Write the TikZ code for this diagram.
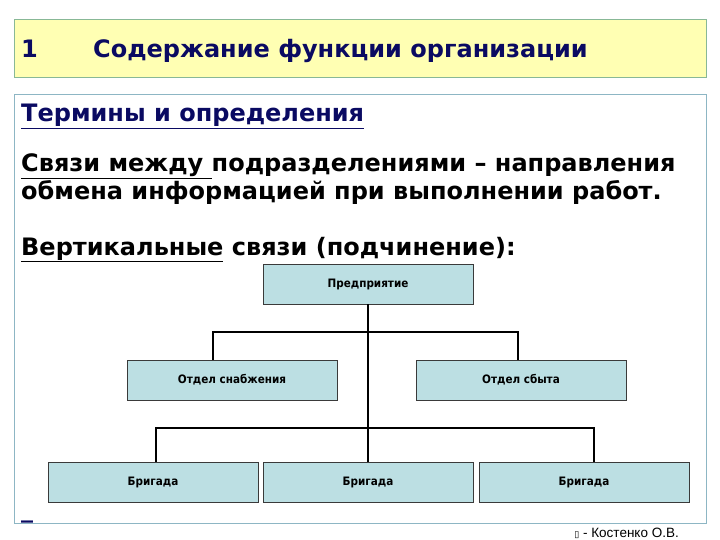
\documentclass[tikz,border=0pt]{standalone}
\usepackage{fontspec}
\setmainfont{DejaVu Sans}
\newfontfamily\footfont{Liberation Sans}
\newfontfamily\boxfont{DejaVu Sans Condensed}
\usetikzlibrary{positioning}
\definecolor{titlefill}{HTML}{FFFFB3}
\definecolor{titleline}{HTML}{88B896}
\definecolor{frameline}{HTML}{8DB6C4}
\definecolor{navy}{HTML}{0A0A62}
\definecolor{unitfill}{HTML}{BCDFE3}
\definecolor{unitline}{HTML}{3A3A3A}
\tikzstyle{unit}=[draw=unitline, fill=unitfill, line width=0.8pt, inner sep=0,
                  minimum width=210, minimum height=40,
                  font=\boxfont\fontsize{11.6}{13}\selectfont\bfseries]
\tikzstyle{link}=[line width=2pt, black]
\tikzstyle{slidetext}=[anchor=base west, inner sep=0,
                       font=\fontsize{24}{28}\selectfont\bfseries]
\begin{document}
\begin{tikzpicture}[x=1pt, y=-1pt]
    \useasboundingbox (0,0) rectangle (720,540);
    % Title bar and frame
    \draw[titleline, fill=titlefill, line width=1pt] (14,20) rectangle (706,78);
    \draw[frameline, line width=1pt] (14,95) rectangle (706,523);
    \node[slidetext, navy] (num) at (21,58) {1};
    \node[slidetext, navy] (title) at (93,58) {Содержание функции организации};
    % Terms
    \node[slidetext, navy] (terms) at (21,122) {\underline{Термины и определения}};
    \node[slidetext] (def1) at (21,172) {\underline{Связи между\ }подразделениями – направления};
    \node[slidetext] (def2) at (21,200) {обмена информацией при выполнении работ.};
    \node[slidetext] (vert) at (21,255) {\underline{Вертикальные} связи (подчинение):};
    % Org chart
    \node[unit] (P) at (368,284) {Предприятие};
    \node[unit] (S1) at (232,380) {Отдел снабжения};
    \node[unit] (S2) at (521,380) {Отдел сбыта};
    \node[unit] (B1) at (153,482) {Бригада};
    \node[unit] (B2) at (368,482) {Бригада};
    \node[unit] (B3) at (584,482) {Бригада};
    \coordinate (j1) at (213,332);
    \coordinate (j2) at (518,332);
    \coordinate (j3) at (156,428);
    \coordinate (j4) at (594,428);
    \draw[link] (P.south) -- (B2.north);
    \draw[link] (j1 |- S1.north) -- (j1) -- (j2) -- (j2 |- S2.north);
    \draw[link] (j3 |- B1.north) -- (j3) -- (j4) -- (j4 |- B3.north);
    % Footer
    \node[slidetext, navy] (blank) at (21,517) {\_};
    \node[anchor=base east, inner sep=0, font=\footfont\fontsize{13.5}{15}\selectfont] (author) at (679,537) {{\fontspec{DejaVu Sans}\fontsize{9}{10}\selectfont ▯} - Костенко О.В.};
\end{tikzpicture}
\end{document}
